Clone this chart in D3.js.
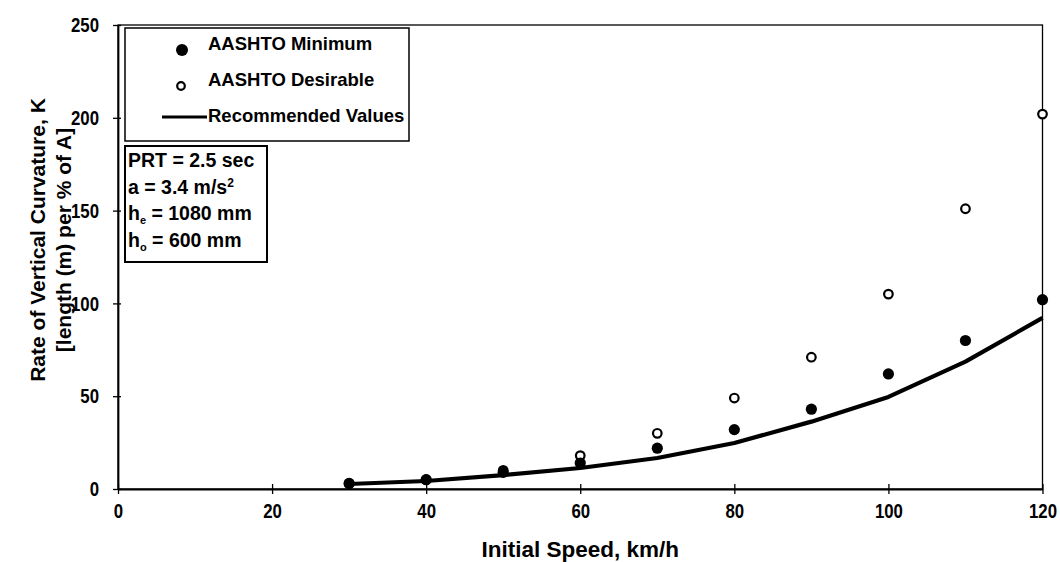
<!DOCTYPE html>
<html>
<head>
<meta charset="utf-8">
<script src="https://cdn.jsdelivr.net/npm/d3@7/dist/d3.min.js"></script>
<style>
  html, body { margin: 0; padding: 0; background: #fff; }
  svg { display: block; }
  text { fill: #000; }
</style>
</head>
<body>
<svg id="chart" width="1060" height="562"></svg>
<script>
// Initial speed (km/h)
const speeds = [30, 40, 50, 60, 70, 80, 90, 100, 110, 120];
// AASHTO crest curve K values
const aashtoMinimum   = [3, 5, 9, 14, 22, 32, 43, 62, 80, 102];
const aashtoDesirable = [3, 5, 10, 18, 30, 49, 71, 105, 151, 202];
// Recommended K values
const recommended = [2.7, 4.3, 7.5, 11.3, 16.7, 24.8, 36.3, 49.6, 68.6, 92.2];

const xTicks = [0, 20, 40, 60, 80, 100, 120];
const yTicks = [0, 50, 100, 150, 200, 250];

const legendLabels = ["AASHTO Minimum", "AASHTO Desirable", "Recommended Values"];

const svg = d3.select("#chart");
const FONT = "'Liberation Sans', Arial, Helvetica, sans-serif";

const plot = { left: 118, right: 1042.5, top: 25, bottom: 489 };

const x = d3.scaleLinear().domain([0, 120]).range([plot.left, plot.right]);
const y = d3.scaleLinear().domain([0, 250]).range([plot.bottom, plot.top]);

// plot frame
svg.append("rect")
  .attr("x", plot.left).attr("y", plot.top)
  .attr("width", plot.right - plot.left).attr("height", plot.bottom - plot.top)
  .attr("fill", "none").attr("stroke", "#000").attr("stroke-width", 1.3);

// axes with cross-style ticks
const xAxis = svg.append("g")
  .attr("transform", `translate(0,${plot.bottom})`)
  .call(d3.axisBottom(x).tickValues(xTicks).tickSizeInner(5).tickSizeOuter(0).tickPadding(9));
xAxis.selectAll(".tick line").attr("y1", -5);
xAxis.select(".domain").attr("stroke-width", 1.8);

const yAxis = svg.append("g")
  .attr("transform", `translate(${plot.left},0)`)
  .call(d3.axisLeft(y).tickValues(yTicks).tickSizeInner(5).tickSizeOuter(0).tickPadding(14));
yAxis.selectAll(".tick line").attr("x1", 3);
yAxis.select(".domain").attr("stroke-width", 1.8);

// condensed bold tick labels
svg.selectAll(".tick text")
  .attr("font-family", FONT)
  .attr("font-weight", "bold")
  .attr("font-size", 21)
  .attr("fill", "#000")
  .each(function () {
    const w = this.getComputedTextLength();
    d3.select(this).attr("textLength", w * 0.8).attr("lengthAdjust", "spacingAndGlyphs");
  });
svg.selectAll(".tick line").attr("stroke", "#000").attr("stroke-width", 1.3);

// axis titles
svg.append("text")
  .attr("x", (plot.left + plot.right) / 2).attr("y", 557)
  .attr("text-anchor", "middle")
  .attr("font-family", FONT).attr("font-weight", "bold").attr("font-size", 22.5)
  .text("Initial Speed, km/h");

const yTitle = svg.append("g").attr("transform", "translate(0,240) rotate(-90)");
yTitle.append("text")
  .attr("x", 0).attr("y", 45)
  .attr("text-anchor", "middle")
  .attr("font-family", FONT).attr("font-weight", "bold").attr("font-size", 21)
  .text("Rate of Vertical Curvature, K");
yTitle.append("text")
  .attr("x", 0).attr("y", 71)
  .attr("text-anchor", "middle")
  .attr("font-family", FONT).attr("font-weight", "bold").attr("font-size", 21)
  .text("[length (m) per % of A]");

// recommended curve
const line = d3.line()
  .x((d, i) => x(speeds[i]))
  .y(d => y(d));
svg.append("path")
  .datum(recommended)
  .attr("d", line)
  .attr("fill", "none")
  .attr("stroke", "#000")
  .attr("stroke-width", 4.2)
  .attr("stroke-linejoin", "round");

// AASHTO desirable (open circles)
svg.append("g").selectAll("circle")
  .data(aashtoDesirable)
  .join("circle")
  .attr("cx", (d, i) => x(speeds[i]))
  .attr("cy", d => y(d))
  .attr("r", 4.3)
  .attr("fill", "#fff")
  .attr("stroke", "#000")
  .attr("stroke-width", 2.2);

// AASHTO minimum (filled circles)
svg.append("g").selectAll("circle")
  .data(aashtoMinimum)
  .join("circle")
  .attr("cx", (d, i) => x(speeds[i]))
  .attr("cy", d => y(d))
  .attr("r", 5.6)
  .attr("fill", "#000");

// legend
const legend = svg.append("g");
legend.append("rect")
  .attr("x", 125).attr("y", 28).attr("width", 284).attr("height", 113)
  .attr("fill", "#fff").attr("stroke", "#000").attr("stroke-width", 1.5);
legend.append("circle").attr("cx", 182).attr("cy", 50).attr("r", 6).attr("fill", "#000");
legend.append("circle").attr("cx", 181).attr("cy", 86).attr("r", 3.8)
  .attr("fill", "#fff").attr("stroke", "#000").attr("stroke-width", 2.2);
legend.append("line").attr("x1", 162).attr("x2", 207).attr("y1", 117).attr("y2", 117)
  .attr("stroke", "#000").attr("stroke-width", 3);
legend.selectAll("text.lg")
  .data(legendLabels)
  .join("text")
  .attr("class", "lg")
  .attr("x", 208)
  .attr("y", (d, i) => 50 + i * 36)
  .attr("font-family", FONT).attr("font-weight", "bold").attr("font-size", 18.5)
  .text(d => d);

// parameter box
const params = svg.append("g");
params.append("rect")
  .attr("x", 125).attr("y", 146).attr("width", 142).attr("height", 116)
  .attr("fill", "#fff").attr("stroke", "#000").attr("stroke-width", 2);
const pText = (yy) => params.append("text")
  .attr("x", 128).attr("y", yy)
  .attr("font-family", FONT).attr("font-weight", "bold").attr("font-size", 19.5);
pText(167).text("PRT = 2.5 sec");
const t2 = pText(194);
t2.append("tspan").text("a = 3.4 m/s");
t2.append("tspan").attr("dy", -7).attr("font-size", 12).text("2");
const t3 = pText(220);
t3.append("tspan").text("h");
t3.append("tspan").attr("dy", 4).attr("font-size", 11).text("e");
t3.append("tspan").attr("dy", -4).text(" = 1080 mm");
const t4 = pText(247);
t4.append("tspan").text("h");
t4.append("tspan").attr("dy", 4).attr("font-size", 11).text("o");
t4.append("tspan").attr("dy", -4).text(" = 600 mm");
</script>
</body>
</html>
